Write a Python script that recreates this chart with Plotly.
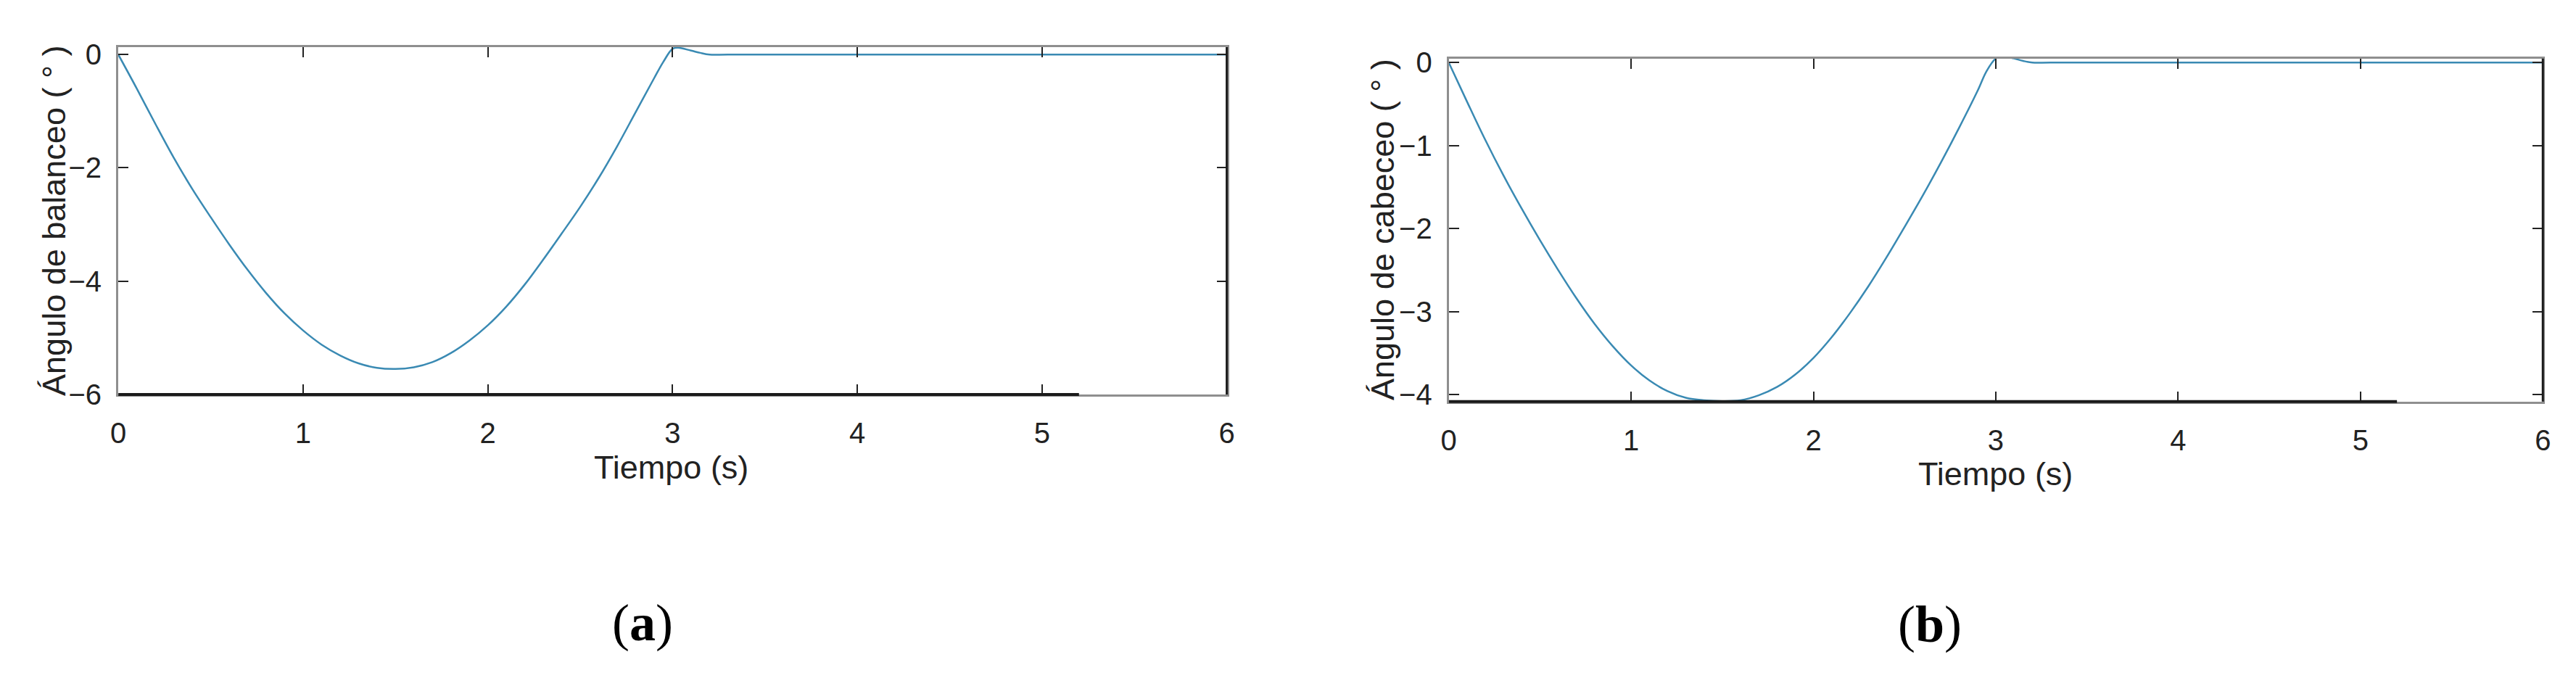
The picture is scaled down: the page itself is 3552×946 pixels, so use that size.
import plotly.graph_objects as go

# ---- data ----
tiempo = [0, 0.1, 0.2, 0.3, 0.4, 0.5, 0.6, 0.7, 0.8, 0.9, 1.0, 1.1, 1.2, 1.3, 1.4,
          1.5, 1.6, 1.7, 1.8, 1.9, 2.0, 2.1, 2.2, 2.3, 2.4, 2.5, 2.6, 2.7, 2.8, 2.9,
          2.95, 3.0, 3.03, 3.1, 3.15, 3.2, 3.3, 4.0, 5.0, 6.0]

balanceo = [0, -0.60, -1.22, -1.82, -2.37, -2.87, -3.35, -3.80, -4.21, -4.57, -4.87,
            -5.12, -5.31, -5.45, -5.53, -5.55, -5.52, -5.43, -5.27, -5.05, -4.78,
            -4.45, -4.06, -3.62, -3.16, -2.69, -2.18, -1.62, -1.02, -0.42,
            -0.13, 0.10, 0.12, 0.07, 0.03, 0.0, 0.0, 0.0, 0.0, 0.0]

cabeceo = [0, -0.47, -0.93, -1.36, -1.76, -2.14, -2.50, -2.84, -3.15, -3.42, -3.65,
           -3.83, -3.96, -4.04, -4.07, -4.08, -4.07, -4.01, -3.91, -3.76, -3.56,
           -3.31, -3.02, -2.70, -2.35, -1.98, -1.60, -1.20, -0.78, -0.34,
           -0.10, 0.05, 0.08, 0.05, 0.02, 0.0, 0.0, 0.0, 0.0, 0.0]

x_ticks = [0, 1, 2, 3, 4, 5, 6]
y_ticks_a = [0, -2, -4, -6]
y_ticks_b = [0, -1, -2, -3, -4]
x_title = "Tiempo (s)"
y_title_a = "Ángulo de balanceo ( ° )"
y_title_b = "Ángulo de cabeceo ( ° )"
captions = ["(<b>a</b>)", "(<b>b</b>)"]

W, H = 3552, 946
LINE = "#3a8ab3"
FONT = "Liberation Sans, Arial, sans-serif"

fig = go.Figure()
fig.add_trace(go.Scatter(x=tiempo, y=balanceo, mode="lines", line=dict(color=LINE, width=2.5, shape="spline"),
                         xaxis="x", yaxis="y", showlegend=False))
fig.add_trace(go.Scatter(x=tiempo, y=cabeceo, mode="lines", line=dict(color=LINE, width=2.5, shape="spline"),
                         xaxis="x2", yaxis="y2", showlegend=False))

def px(v):
    return v / W

def py(v):
    return 1 - v / H

axis_common = dict(ticks="inside", ticklen=14, tickwidth=2, tickcolor="#222",
                   showline=True, linecolor="#8f8f8f", linewidth=3, mirror="ticks",
                   showgrid=False, zeroline=False,
                   tickfont=dict(family=FONT, size=40, color="#222"))

fig.update_layout(
    width=W, height=H, autosize=False,
    margin=dict(l=0, r=0, t=0, b=0),
    paper_bgcolor="white", plot_bgcolor="white",
    xaxis=dict(domain=[px(145), px(1683)], range=[0, 6], tickvals=x_ticks,
               anchor="y", ticklabelstandoff=16, **axis_common),
    yaxis=dict(domain=[py(541.7), py(42.7)], range=[-6.0, 0.131], tickvals=y_ticks_a,
               anchor="x", ticklabelstandoff=12, **axis_common),
    xaxis2=dict(domain=[px(1991), px(3509)], range=[0, 6], tickvals=x_ticks,
                anchor="y2", ticklabelstandoff=16, **axis_common),
    yaxis2=dict(domain=[py(552), py(59)], range=[-4.086, 0.05], tickvals=y_ticks_b,
                anchor="x2", ticklabelstandoff=12, **axis_common),
)

shapes = []
for xr, yr in (("x", "y"), ("x2", "y2")):
    shapes.append(dict(type="line", xref=xr, yref=yr + " domain", x0=0, x1=5.2, y0=0, y1=0,
                       line=dict(color="#1a1a1a", width=4)))
    shapes.append(dict(type="line", xref=xr + " domain", yref=yr + " domain", x0=1, x1=1, y0=0, y1=1,
                       line=dict(color="#1a1a1a", width=3)))
fig.update_layout(shapes=shapes)

ann = []
ann.append(dict(text=x_title, x=px(912), y=py(646), xref="paper", yref="paper", showarrow=False,
                xanchor="center", yanchor="middle", font=dict(family=FONT, size=45, color="#222")))
ann.append(dict(text=x_title, x=px(2750), y=py(656), xref="paper", yref="paper", showarrow=False,
                xanchor="center", yanchor="middle", font=dict(family=FONT, size=45, color="#222")))
ann.append(dict(text=y_title_a, x=px(56), y=py(292), xref="paper", yref="paper", showarrow=False,
                textangle=-90, xanchor="center", yanchor="middle", font=dict(family=FONT, size=45, color="#222")))
ann.append(dict(text=y_title_b, x=px(1900), y=py(305), xref="paper", yref="paper", showarrow=False,
                textangle=-90, xanchor="center", yanchor="middle", font=dict(family=FONT, size=45, color="#222")))
ann.append(dict(text=captions[0], x=px(872), y=py(870), xref="paper", yref="paper", showarrow=False,
                xanchor="center", yanchor="middle", font=dict(family="Liberation Serif, Times New Roman, serif", size=72, color="#000")))
ann.append(dict(text=captions[1], x=px(2658), y=py(872), xref="paper", yref="paper", showarrow=False,
                xanchor="center", yanchor="middle", font=dict(family="Liberation Serif, Times New Roman, serif", size=72, color="#000")))
fig.update_layout(annotations=ann)

fig.write_html("out.html")
